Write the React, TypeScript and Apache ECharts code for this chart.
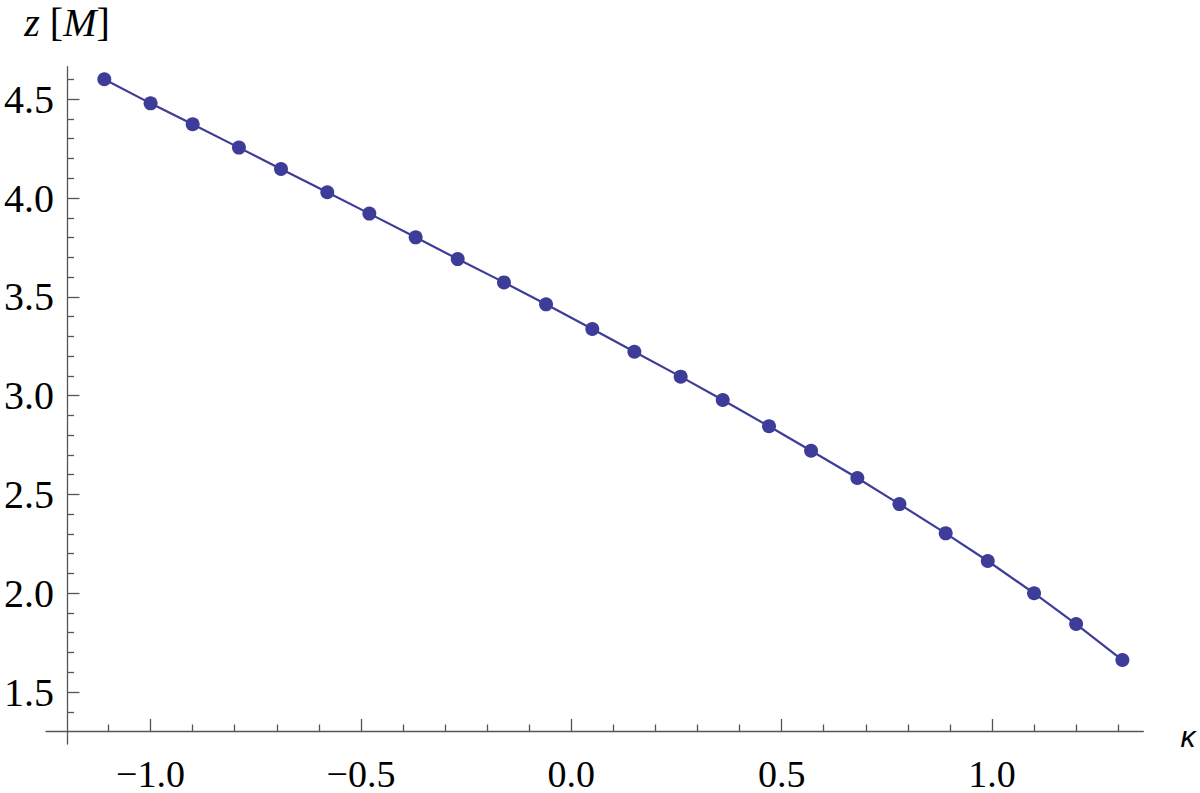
import React, { useEffect, useRef } from "react";
import * as echarts from "echarts";

// data
const kappa = [-1.11, -1.0, -0.9, -0.79, -0.69, -0.58, -0.48, -0.37, -0.27, -0.16, -0.06, 0.05, 0.15, 0.26, 0.36, 0.47, 0.57, 0.68, 0.78, 0.89, 0.99, 1.1, 1.2, 1.31];
const zM = [4.601, 4.479, 4.373, 4.255, 4.147, 4.029, 3.921, 3.801, 3.691, 3.573, 3.462, 3.337, 3.222, 3.096, 2.978, 2.845, 2.721, 2.583, 2.451, 2.303, 2.163, 2.0, 1.844, 1.662];

const xMajorTicks = [-1.0, -0.5, 0.0, 0.5, 1.0];
const xMinorTicks = [-1.1, -0.9, -0.8, -0.7, -0.6, -0.4, -0.3, -0.2, -0.1, 0.1, 0.2, 0.3, 0.4, 0.6, 0.7, 0.8, 0.9, 1.1, 1.2, 1.3];
const yMajorTicks = [1.5, 2.0, 2.5, 3.0, 3.5, 4.0, 4.5];
const yMinorTicks = [1.4, 1.6, 1.7, 1.8, 1.9, 2.1, 2.2, 2.3, 2.4, 2.6, 2.7, 2.8, 2.9, 3.1, 3.2, 3.3, 3.4, 3.6, 3.7, 3.8, 3.9, 4.1, 4.2, 4.3, 4.4, 4.6];

const X_MIN = -1.2486;
const X_MAX = 1.3597;
const Y_MIN = 1.237;
const Y_MAX = 4.6645;

const X_NAME = "\u03ba";
const Y_NAME = "{i|z} [{i|M}]";

const AXIS_COLOR = "#555555";
const SERIES_COLOR = "#3d3d99";
const FONT = "Liberation Serif";

const fmt = (v: number) => {
  const s = Math.abs(v).toFixed(1);
  return v < -1e-9 ? "\u2212" + s : s;
};

export default function App() {
  const ref = useRef<HTMLDivElement>(null);

  useEffect(() => {
    document.body.style.margin = "0";
    if (!ref.current) return;
    const chart = echarts.init(ref.current, undefined, { renderer: "svg" });

    const baseX = {
      type: "value",
      min: X_MIN,
      max: X_MAX,
      position: "bottom",
      offset: -12.5,
      splitLine: { show: false },
    };
    const baseY = {
      type: "value",
      min: Y_MIN,
      max: Y_MAX,
      position: "left",
      offset: -21,
      splitLine: { show: false },
    };

    chart.setOption({
      animation: false,
      backgroundColor: "#ffffff",
      grid: { left: 46, right: 56.7, top: 66.7, bottom: 49, containLabel: false },
      graphic: [
        {
          type: "text",
          x: 1188,
          y: 736,
          style: {
            text: X_NAME,
            fontFamily: "Liberation Sans",
            fontStyle: "italic",
            fontSize: 30,
            fill: "#000",
            align: "center",
            verticalAlign: "middle",
          },
        },
      ],
      xAxis: [
        {
          ...baseX,
          axisLine: { show: true, onZero: false, lineStyle: { color: AXIS_COLOR, width: 1.3 } },
          axisTick: { show: true, inside: true, length: 12.5, customValues: xMajorTicks, lineStyle: { color: AXIS_COLOR, width: 1.3 } },
          axisLabel: {
            show: true,
            customValues: xMajorTicks,
            formatter: (v: number) => fmt(v),
            margin: 42,
            verticalAlign: "middle",
            color: "#000",
            fontFamily: FONT,
            fontSize: 38,
          },
        },
        {
          ...baseX,
          axisLine: { show: false, onZero: false },
          axisTick: { show: true, inside: true, length: 7, customValues: xMinorTicks, lineStyle: { color: AXIS_COLOR, width: 1.3 } },
          axisLabel: { show: false },
        },
      ],
      yAxis: [
        {
          ...baseY,
          axisLine: { show: true, onZero: false, lineStyle: { color: AXIS_COLOR, width: 1.3 } },
          axisTick: { show: true, inside: true, length: 12.5, customValues: yMajorTicks, lineStyle: { color: AXIS_COLOR, width: 1.3 } },
          axisLabel: {
            show: true,
            customValues: yMajorTicks,
            formatter: (v: number) => fmt(v),
            margin: 13,
            color: "#000",
            fontFamily: FONT,
            fontSize: 40,
          },
          name: Y_NAME,
          nameLocation: "end",
          nameGap: 24,
          nameTextStyle: {
            fontFamily: FONT,
            fontSize: 40,
            color: "#000",
            rich: {
              i: { fontFamily: FONT, fontSize: 40, fontStyle: "italic", color: "#000" },
            },
          },
        },
        {
          ...baseY,
          axisLine: { show: false, onZero: false },
          axisTick: { show: true, inside: true, length: 7, customValues: yMinorTicks, lineStyle: { color: AXIS_COLOR, width: 1.3 } },
          axisLabel: { show: false },
        },
      ],
      series: [
        {
          type: "line",
          xAxisIndex: 0,
          yAxisIndex: 0,
          data: kappa.map((k, i) => [k, zM[i]]),
          symbol: "circle",
          symbolSize: 14,
          showSymbol: true,
          lineStyle: { color: SERIES_COLOR, width: 2.2 },
          itemStyle: { color: SERIES_COLOR },
          clip: false,
        },
      ],
    });

    return () => chart.dispose();
  }, []);

  return <div ref={ref} style={{ width: 1200, height: 793 }} />;
}
